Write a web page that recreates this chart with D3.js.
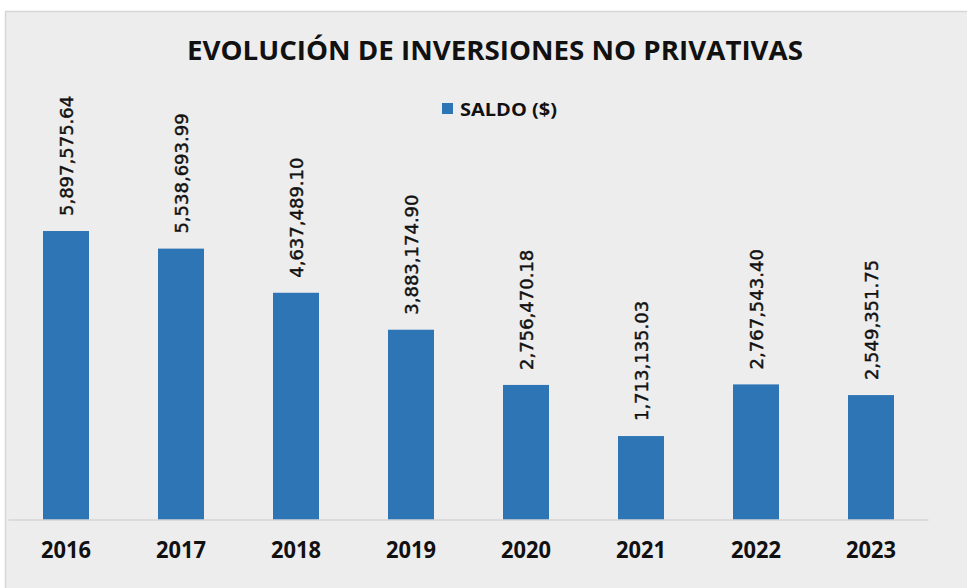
<!DOCTYPE html>
<html>
<head>
<meta charset="utf-8">
<script src="https://cdn.jsdelivr.net/npm/d3@7"></script>
<style>
  body { margin: 0; background: #fff; }
  svg { display: block; }
</style>
</head>
<body>
<div id="chart"></div>
<script>
// Evolución de inversiones no privativas - saldo por año
const years = ['2016', '2017', '2018', '2019', '2020', '2021', '2022', '2023'];
const saldo = [5897575.64, 5538693.99, 4637489.10, 3883174.90, 2756470.18, 1713135.03, 2767543.40, 2549351.75];
const seriesName = 'SALDO ($)';
const title = 'EVOLUCIÓN DE INVERSIONES  NO PRIVATIVAS';

const width = 967, height = 588;
const svg = d3.select('#chart').append('svg')
    .attr('width', width)
    .attr('height', height);

// grey chart area
svg.append('rect')
    .attr('x', 5.5).attr('y', 11.5)
    .attr('width', width).attr('height', height)
    .attr('fill', '#ededed')
    .attr('stroke', '#d6d6d6')
    .attr('stroke-width', 1.5);

const x = d3.scaleBand()
    .domain(years)
    .range([8.5, 928.5])
    .paddingInner(0.6)
    .paddingOuter(0.3);

const y = d3.scaleLinear()
    .domain([0, 7000000])
    .range([520, 177]);

// title
svg.append('text')
    .attr('x', 495)
    .attr('y', 60)
    .attr('text-anchor', 'middle')
    .attr('font-family', 'Open Sans, sans-serif')
    .attr('font-weight', 700)
    .attr('font-size', 26)
    .attr('textLength', 616)
    .attr('lengthAdjust', 'spacingAndGlyphs')
    .attr('fill', '#111')
    .text(title);

// legend
svg.append('rect')
    .attr('x', 442).attr('y', 103)
    .attr('width', 11).attr('height', 11)
    .attr('fill', '#2e75b6');
svg.append('text')
    .attr('x', 460)
    .attr('y', 116)
    .attr('font-family', 'Open Sans, sans-serif')
    .attr('font-weight', 700)
    .attr('font-size', 18)
    .attr('textLength', 97)
    .attr('lengthAdjust', 'spacingAndGlyphs')
    .attr('fill', '#111')
    .text(seriesName);

// bars
svg.selectAll('.bar')
    .data(saldo)
    .enter()
    .append('rect')
    .attr('class', 'bar')
    .attr('x', (d, i) => x(years[i]))
    .attr('y', d => y(d))
    .attr('width', x.bandwidth())
    .attr('height', d => y(0) - y(d))
    .attr('fill', '#2e75b6');

// baseline axis
const axis = svg.append('g')
    .attr('transform', `translate(0,${y(0)})`)
    .call(d3.axisBottom(x).tickSize(0).tickPadding(25));
axis.select('.domain')
    .attr('stroke', '#d4d4d4')
    .attr('stroke-width', 1.5)
    .attr('d', `M${x.range()[0]},0H${x.range()[1]}`);
axis.selectAll('text')
    .attr('font-family', 'Open Sans, sans-serif')
    .attr('font-weight', 700)
    .attr('font-size', 23)
    .attr('textLength', 50)
    .attr('lengthAdjust', 'spacingAndGlyphs')
    .attr('fill', '#111')
    .attr('dy', '0.55em');

// value labels, rotated
const fmt = d3.format(',.2f');
svg.selectAll('.val')
    .data(saldo)
    .enter()
    .append('text')
    .attr('class', 'val')
    .attr('transform', (d, i) => `translate(${x(years[i]) + x.bandwidth() / 2 + 6.5},${y(d) - 15}) rotate(-90)`)
    .attr('font-family', 'DejaVu Sans, sans-serif')
    .attr('font-size', 18)
    .attr('fill', '#111')
    .attr('stroke', '#111')
    .attr('stroke-width', 0.45)
    .text(d => fmt(d));
</script>
</body>
</html>
